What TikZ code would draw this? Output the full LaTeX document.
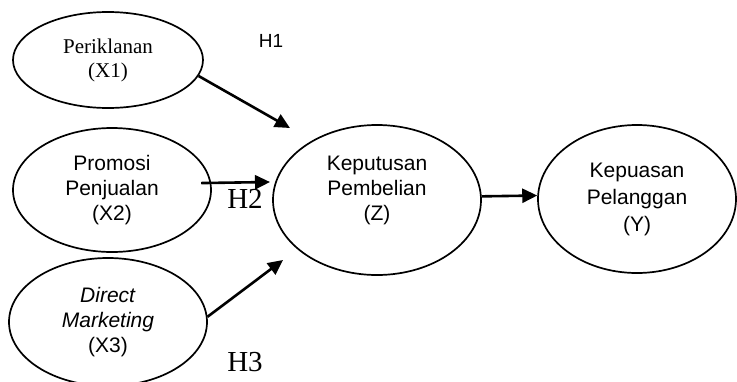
\documentclass[tikz,border=0pt]{standalone}
\usepackage{fontspec}
\setmainfont{Liberation Serif}
\setsansfont{Liberation Sans}
\usetikzlibrary{arrows.meta,shapes.geometric}

\begin{document}
\begin{tikzpicture}[x=1pt,y=-1pt,>={Triangle[length=15pt,width=14pt]},
        var/.style={draw,ellipse,line width=1.7pt,inner sep=0pt,align=center,
                    font=\sffamily\fontsize{21}{25}\selectfont},
        link/.style={->,line width=2.6pt}]
        \useasboundingbox (0,0) rectangle (737,381);

        	\node[var, minimum width=190pt, minimum height=96pt, font=\rmfamily\fontsize{21}{24}\selectfont]
                (x1) at (108,60) {Periklanan\\(X1)};
  			\node[var, minimum width=198pt, minimum height=124pt]
                (x2) [below of=x1, node distance=130pt, xshift=4pt] {Promosi\\Penjualan\\(X2)};
            \node[var, minimum width=198pt, minimum height=128pt]
                (x3) [below of=x2, node distance=132pt, xshift=-4pt] {\textit{Direct}\\\textit{Marketing}\\(X3)};

            \node[var, minimum width=208pt, minimum height=150pt]
                (z) [right of=x2, node distance=265pt, yshift=-10pt] {Keputusan\\Pembelian\\(Z)\\[-2pt]};
            \node[var, minimum width=198pt, minimum height=148pt, font=\sffamily\fontsize{21}{27}\selectfont]
                (y) [right of=z, node distance=260pt, yshift=1pt] {Kepuasan\\Pelanggan\\(Y)};

            % hypotheses
            \node[font=\sffamily\fontsize{19}{19}\selectfont] (h1) at (271,41) {H1};
            \node[font=\rmfamily\fontsize{29}{29}\selectfont] (h2) at (245,199) {H2};
            \node[font=\rmfamily\fontsize{29}{29}\selectfont] (h3) at (245,362) {H3};

            \coordinate (a1) at (290,128);
            \coordinate (a2) at (270,182);
            \coordinate (a3) at (283,260);

  			\path[]
                     (x1.-10) edge [link] (a1)
                     ([xshift=-10pt]x2.4) edge [link] (a2)
                     (x3.3) edge [link] (a3)
                     (z.2) edge [link] (y.178)
                     ;
\end{tikzpicture}
\end{document}
